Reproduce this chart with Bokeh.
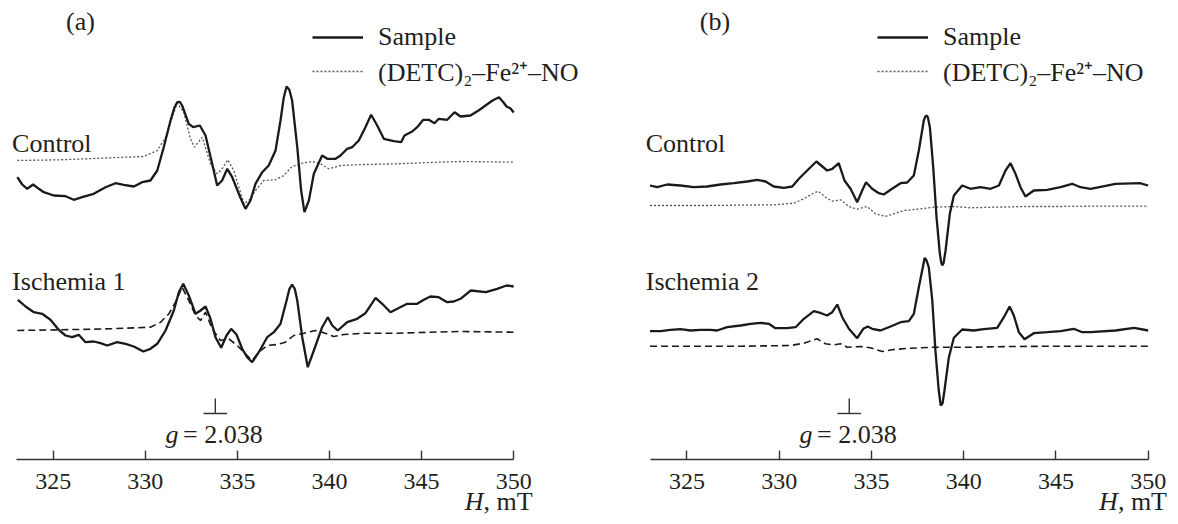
from bokeh.plotting import figure
from bokeh.models import Range1d, Label, Legend, LegendItem, FixedTicker
from bokeh.layouts import row
from bokeh.embed import file_html
from bokeh.resources import INLINE

# ---------------- data (H in mT, signal in arbitrary units) ----------------
TICKS = [325, 330, 335, 340, 345, 350]
H_MIN, H_MAX = 323, 350
G_MARK_H = 333.8

# Panel (a) - Control, sample
a_ctrl_H = [323.05, 323.32, 323.59, 323.91, 324.22, 324.49, 325.03, 325.67, 326.12, 326.57,
            327.20, 327.84, 328.38, 328.83, 329.38, 329.83, 330.28, 330.65, 331.00, 331.37,
            331.58, 331.73, 331.88, 332.00, 332.36, 332.60, 332.96, 333.27, 333.63, 333.90, 334.17, 334.45,
            334.72, 335.17, 335.44, 335.71, 335.98, 336.35, 336.70, 337.07, 337.34, 337.52, 337.67,
            337.82, 337.97, 338.25, 338.46, 338.64, 338.88, 339.15, 339.60, 339.88, 340.33, 340.60,
            340.96, 341.23, 341.59, 341.95, 342.26, 342.59, 342.95, 343.49, 343.89, 344.07,
            344.49, 344.76, 345.09, 345.39, 345.70, 345.93, 346.39, 346.79, 347.11, 347.65,
            348.09, 348.47, 348.85, 349.20, 349.45, 349.61, 349.83, 350.00]
a_ctrl_S = [282.0, 274.7, 270.4, 274.7, 270.4, 267.0, 263.7, 263.0, 259.4, 262.0,
            265.4, 272.0, 276.0, 274.4, 272.7, 277.0, 278.7, 288.7, 312.0, 338.7,
            351.5, 357.0, 357.2, 353.7, 335.4, 332.0, 333.7, 323.7, 295.4, 273.7, 278.7, 290.4,
            282.0, 261.2, 250.4, 258.7, 275.4, 287.0, 293.7, 308.7, 338.7, 362.0, 372.7,
            369.5, 358.7, 312.0, 268.7, 247.0, 258.7, 285.4, 303.7, 300.4, 300.4, 303.7,
            310.4, 312.0, 318.7, 332.0, 344.4, 333.7, 320.4, 318.0, 317.0, 323.7,
            327.7, 332.0, 339.4, 339.4, 336.0, 340.4, 339.4, 347.0, 342.7, 343.7,
            348.7, 353.7, 358.7, 362.0, 356.7, 352.7, 350.7, 346.7]

# Panel (a) - Control, (DETC)2-Fe2+-NO
a_ctrl_ref_H = [323.05, 325.40, 328.11, 329.92, 330.65, 331.10, 331.46, 331.73, 332.09, 332.45,
                332.67, 333.09, 333.54, 333.90, 334.17, 334.48, 334.80, 335.17, 335.35, 335.62,
                335.98, 336.43, 337.07, 337.52, 337.97, 338.52, 339.06, 339.51, 339.96, 340.60,
                341.86, 343.68, 345.48, 347.11, 350.00]
a_ctrl_ref_S = [298.7, 299.4, 301.4, 302.7, 308.7, 322.0, 342.0, 356.0, 347.0, 320.4,
                312.0, 322.0, 295.4, 285.4, 290.4, 299.4, 288.7, 266.7, 255.4, 258.7,
                268.7, 278.7, 279.4, 283.7, 292.7, 296.0, 297.7, 295.4, 290.4, 293.7,
                294.7, 295.4, 296.7, 297.7, 297.0]

# Panel (a) - Ischemia 1, sample
a_isch_H = [323.08, 323.50, 323.95, 324.40, 324.85, 325.30, 325.67, 326.03, 326.39, 326.75,
            327.20, 327.57, 327.93, 328.47, 328.93, 329.38, 329.89, 330.28, 330.65, 331.10,
            331.55, 331.82, 332.06, 332.36, 332.73, 333.00, 333.27, 333.54, 333.81, 334.12,
            334.41, 334.66, 334.95, 335.26, 335.53, 335.80, 336.16, 336.62, 336.98, 337.34,
            337.67, 337.82, 337.97, 338.12, 338.25, 338.52, 338.82, 339.15, 339.60, 339.91, 340.15, 340.45,
            340.96, 341.50, 341.95, 342.23, 342.50, 342.86, 343.31, 343.68, 344.22, 344.76,
            345.12, 345.48, 345.93, 346.39, 346.75, 347.11, 347.67, 348.49, 349.10, 349.61,
            350.00]
a_isch_S = [159.4, 152.7, 147.0, 145.4, 139.4, 129.4, 123.7, 122.0, 124.4, 117.0,
            117.7, 116.0, 113.7, 117.0, 115.4, 112.7, 107.7, 110.4, 115.4, 128.7,
            148.7, 167.0, 175.4, 163.7, 145.4, 148.7, 152.7, 140.4, 122.0, 111.4,
            123.7, 130.4, 124.7, 110.4, 102.0, 97.0, 107.0, 122.0, 127.0, 135.4,
            158.7, 170.0, 174.7, 170.0, 158.7, 122.0, 92.0, 108.7, 132.0, 142.0, 133.7, 128.7,
            137.0, 140.4, 146.0, 153.7, 161.4, 155.4, 147.0, 150.4, 155.4, 155.4,
            159.4, 162.7, 162.0, 157.0, 157.7, 160.4, 168.7, 167.0, 170.4, 173.7,
            172.7]

# Panel (a) - Ischemia 1, (DETC)2-Fe2+-NO
a_isch_ref_H = [323.05, 325.40, 328.11, 330.28, 330.83, 331.28, 331.64, 332.00, 332.36, 332.73,
                333.00, 333.27, 333.63, 334.08, 334.53, 334.99, 335.53, 335.80, 336.16, 336.62,
                337.16, 337.61, 338.06, 338.61, 339.24, 339.60, 340.23, 340.78, 341.86, 343.68,
                345.48, 347.11, 350.00]
a_isch_ref_S = [128.7, 129.4, 130.4, 132.0, 137.0, 145.4, 157.0, 172.0, 158.7, 143.7,
                138.7, 147.0, 130.4, 118.7, 120.4, 113.7, 103.7, 98.7, 107.0, 113.7,
                114.7, 117.0, 123.7, 126.0, 128.7, 127.0, 122.7, 124.7, 126.0, 126.0,
                127.0, 127.7, 127.0]

# Panel (b) - Control, sample
b_ctrl_H = [323.00, 323.39, 323.93, 324.65, 325.37, 326.10, 326.82, 327.54, 328.27, 328.81,
            329.26, 329.71, 330.25, 330.71, 331.07, 331.52, 332.02, 332.60, 332.88, 333.23,
            333.54, 333.87, 334.23, 334.50, 334.71, 335.04, 335.40, 335.67, 336.04, 336.58,
            336.94, 337.30, 337.57, 337.84, 337.92, 337.99, 338.06, 338.17, 338.35, 338.53, 338.71,
            338.78, 338.84, 338.91, 339.02, 339.25, 339.47, 339.92, 340.37, 340.91, 341.46, 341.91, 342.27, 342.54,
            342.81, 343.08, 343.35, 343.80, 344.53, 345.25, 345.88, 346.33, 346.88, 348.23,
            349.55, 350.00]
b_ctrl_S = [273.7, 272.0, 274.7, 273.7, 272.0, 272.7, 274.7, 276.0, 277.7, 279.4,
            277.7, 272.7, 271.4, 272.7, 280.4, 288.7, 297.7, 288.7, 290.4, 296.0,
            278.7, 270.4, 257.0, 268.7, 277.0, 270.4, 266.0, 264.7, 269.4, 276.0,
            276.7, 283.7, 308.7, 338.7, 342.5, 343.7, 342.0, 332.0, 292.0, 242.0, 205.4,
            197.0, 193.7, 196.0, 208.7, 245.4, 263.7, 273.7, 270.4, 272.0, 270.4, 273.7, 288.7, 296.0,
            285.4, 272.0, 262.7, 268.7, 269.4, 272.0, 275.4, 272.0, 270.4, 275.4,
            276.0, 273.7]

# Panel (b) - Control, (DETC)2-Fe2+-NO
b_ctrl_ref_H = [323.00, 326.10, 329.71, 330.79, 331.34, 331.79, 332.12, 332.51, 332.88, 333.33,
                333.78, 334.23, 334.77, 335.22, 335.76, 336.21, 336.76, 337.48, 338.38, 339.47,
                340.37, 341.63, 343.44, 345.25, 346.88, 350.00]
b_ctrl_ref_S = [253.7, 253.7, 254.4, 256.0, 260.4, 265.4, 268.0, 262.0, 258.0, 259.4,
                252.7, 250.0, 252.7, 245.4, 242.7, 245.4, 248.7, 250.0, 252.0, 252.7,
                251.4, 252.0, 252.7, 252.7, 253.0, 253.0]

# Panel (b) - Ischemia 2, sample
b_isch_H = [323.00, 323.57, 324.11, 324.65, 325.20, 325.74, 326.28, 326.64, 327.18, 327.91,
            328.45, 328.99, 329.44, 329.80, 330.44, 330.89, 331.34, 331.88, 332.28, 332.60,
            332.88, 333.15, 333.42, 333.78, 334.23, 334.56, 334.80, 335.04, 335.49, 336.04,
            336.58, 337.03, 337.30, 337.57, 337.89, 337.98, 338.11, 338.30, 338.47, 338.65, 338.76,
            338.86, 338.96, 339.20, 339.47, 339.92, 340.55, 341.09, 341.82, 342.18, 342.49, 342.72,
            342.99, 343.30, 343.80, 344.53, 345.25, 345.97, 346.43, 346.88, 348.23, 349.24,
            350.00]
b_isch_S = [128.0, 128.0, 129.4, 130.0, 128.7, 129.4, 129.4, 128.7, 132.0, 133.7,
            135.4, 136.4, 135.4, 131.0, 131.0, 132.0, 140.4, 148.0, 146.0, 143.7,
            147.0, 154.7, 142.0, 130.4, 121.0, 130.4, 132.7, 130.4, 128.7, 132.7,
            137.0, 138.0, 145.4, 172.0, 201.4, 199.0, 192.0, 158.7, 108.7, 68.7, 53.7,
            56.0, 68.7, 102.0, 121.4, 129.7, 128.7, 130.0, 131.4, 142.0, 152.7, 143.7,
            127.0, 120.0, 126.0, 127.0, 128.0, 130.4, 127.0, 127.0, 128.7, 131.4,
            128.7]

# Panel (b) - Ischemia 2, (DETC)2-Fe2+-NO
b_isch_ref_H = [323.00, 327.91, 330.62, 331.34, 331.79, 332.06, 332.51, 332.96, 333.33, 333.69,
                334.41, 334.95, 335.59, 336.21, 337.12, 338.38, 340.37, 342.54, 345.25, 350.00]
b_isch_ref_S = [113.0, 113.0, 113.7, 116.0, 118.7, 120.4, 115.4, 114.4, 115.4, 112.0,
                112.7, 111.4, 107.7, 109.7, 111.0, 112.0, 112.0, 112.7, 113.0, 113.0]

SAMPLE_LABEL = "Sample"
REF_LABEL = "(DETC)\u2082\u2013Fe\u00b2\u207a\u2013NO"

# ---------------- styling ----------------
SERIF = "Liberation Serif"
TXT = "#231f20"
LINE = "#1a1a1a"
FONT = "26px"
FIG_H = 524


def make_panel(tag, names, curves, width, x_start, px_per_mT, legend_x):
    x_end = x_start + width / px_per_mT
    p = figure(width=width, height=FIG_H, x_range=Range1d(x_start, x_end),
               y_range=Range1d(-65.3, 458.7),
               output_backend="svg", toolbar_location=None, y_axis_location=None,
               min_border_left=0, min_border_right=0, min_border_top=0,
               min_border_bottom=0)
    p.outline_line_color = None
    p.xgrid.grid_line_color = None
    p.ygrid.grid_line_color = None
    ax = p.xaxis[0]
    ax.fixed_location = 0
    ax.bounds = (H_MIN, H_MAX)
    ax.ticker = FixedTicker(ticks=TICKS)
    ax.major_tick_in = 9
    ax.major_tick_out = 0
    ax.minor_tick_line_color = None
    ax.axis_line_color = "#333333"
    ax.axis_line_width = 1.4
    ax.major_tick_line_color = "#333333"
    ax.major_tick_line_width = 1.4
    ax.major_label_text_font = SERIF
    ax.major_label_text_font_size = "24px"
    ax.major_label_text_color = TXT
    ax.major_label_standoff = 15

    (cH, cS, crH, crS, iH, iS, irH, irS) = curves
    r_cref = p.line(crH, crS, line_color="#555555", line_width=1.3, line_dash="2 2")
    r_cs = p.line(cH, cS, line_color=LINE, line_width=2.3)
    p.line(irH, irS, line_color=LINE, line_width=1.6, line_dash="7 4")
    p.line(iH, iS, line_color=LINE, line_width=2.3)

    legend = Legend(items=[LegendItem(label=SAMPLE_LABEL, renderers=[r_cs]),
                           LegendItem(label=REF_LABEL, renderers=[r_cref])],
                    location=(legend_x, 435), orientation="vertical",
                    padding=0, margin=0, spacing=1,
                    glyph_width=51, glyph_height=28, label_height=28,
                    label_standoff=15, label_text_font=SERIF,
                    label_text_font_size=FONT, label_text_color=TXT,
                    border_line_alpha=0, background_fill_alpha=0)
    p.add_layout(legend, "center")

    def lab(x, y, t, style="normal"):
        p.add_layout(Label(x=x, y=y, text=t, text_font=SERIF, text_font_size=FONT,
                           text_color=TXT, text_font_style=style,
                           text_baseline="middle", text_align="left"))

    lab(325.70, 437.5, tag)
    lab(322.77, 315.7, names[0])
    lab(322.77, 178.2, names[1])
    lab(331.10, 24.7, "g", "italic")
    lab(332.05, 24.7, "= 2.038")
    lab(347.34, -42.6, "H", "italic")
    lab(348.36, -42.6, ", mT")

    # g-factor marker
    p.segment(x0=[G_MARK_H, G_MARK_H - 0.64], y0=[45.7, 45.7],
              x1=[G_MARK_H, G_MARK_H + 0.64], y1=[60.7, 45.7],
              line_color="#333333", line_width=1.4)
    return p


pa = make_panel("(a)", ["Control", "Ischemia 1"],
                (a_ctrl_H, a_ctrl_S, a_ctrl_ref_H, a_ctrl_ref_S,
                 a_isch_H, a_isch_S, a_isch_ref_H, a_isch_ref_S),
                width=620, x_start=322.139, px_per_mT=18.42, legend_x=312)
pb = make_panel("(b)", ["Control", "Ischemia 2"],
                (b_ctrl_H, b_ctrl_S, b_ctrl_ref_H, b_ctrl_ref_S,
                 b_isch_H, b_isch_S, b_isch_ref_H, b_isch_ref_S),
                width=550, x_start=321.401, px_per_mT=18.45, legend_x=257)

layout = row(pa, pb)
open("out.html", "w").write(file_html(layout, INLINE))
